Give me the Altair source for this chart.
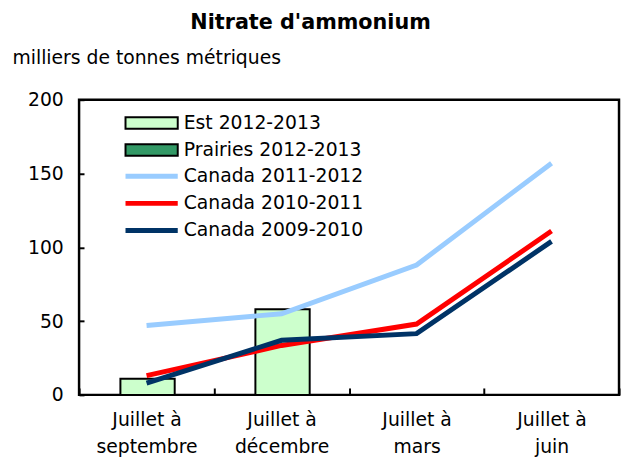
import altair as alt
import pandas as pd

periods = ["Juillet à\nseptembre", "Juillet à\ndécembre", "Juillet à\nmars", "Juillet à\njuin"]

bar_series = ["Est 2012-2013", "Prairies 2012-2013"]
bar_colors = ["#CCFFCC", "#339966"]
est_2012_2013 = [11, 58, None, None]
prairies_2012_2013 = [None, None, None, None]

line_series = ["Canada 2011-2012", "Canada 2010-2011", "Canada 2009-2010"]
line_colors = ["#99CCFF", "#FF0000", "#003366"]
canada_2011_2012 = [47, 55, 88, 157]
canada_2010_2011 = [13, 33.5, 48, 111]
canada_2009_2010 = [8, 37, 41.5, 104]

y_ticks = [0, 50, 100, 150, 200]

FONT = "DejaVu Sans"
FS = 19

bar_rows = []
for name, vals in zip(bar_series, [est_2012_2013, prairies_2012_2013]):
    for p, v in zip(periods, vals):
        if v is not None:
            bar_rows.append({"period": p, "series": name, "value": v})
bars_df = pd.DataFrame(bar_rows)

line_rows = []
for name, vals in zip(line_series, [canada_2011_2012, canada_2010_2011, canada_2009_2010]):
    for i, (p, v) in enumerate(zip(periods, vals)):
        line_rows.append({"period": p, "series": name, "value": v, "idx": i})
lines_df = pd.DataFrame(line_rows)

x_enc = alt.X(
    "period:N",
    sort=periods,
    scale=alt.Scale(domain=periods, paddingInner=0, paddingOuter=0),
    axis=alt.Axis(
        title=None,
        labelAngle=0,
        labelExpr="split(datum.label, '\\n')",
        labelFont=FONT,
        labelFontSize=FS,
        labelColor="black",
        labelLineHeight=27,
        labelPadding=16,
        tickBand="extent",
        tickSize=7,
        tickWidth=2,
        tickColor="black",
        domain=False,
        grid=False,
        offset=-7,
    ),
)

y_scale = alt.Scale(domain=[0, 200], nice=False)
y_axis = alt.Axis(
    values=y_ticks,
    title="milliers de tonnes métriques",
    titleAngle=0,
    titleX=-73,
    titleY=-43,
    titleAlign="left",
    titleBaseline="middle",
    titleFont=FONT,
    titleFontSize=FS,
    titleFontWeight="normal",
    titleColor="black",
    labelFont=FONT,
    labelFontSize=FS,
    labelColor="black",
    labelPadding=16,
    tickSize=5,
    tickWidth=2,
    tickColor="black",
    domain=False,
    grid=False,
    offset=-5,
)

legend_common = dict(
    orient="none",
    legendX=64,
    title=None,
    symbolSize=112,
    symbolOffset=0,
    labelFont=FONT,
    labelFontSize=FS,
    labelColor="black",
    labelOffset=23,
    labelLimit=400,
    rowPadding=6.5,
    padding=0,
)

bars = alt.Chart(bars_df).mark_bar(size=55, stroke="black", strokeWidth=2, xOffset=1).encode(
    x=x_enc,
    y=alt.Y("value:Q", scale=y_scale, axis=y_axis),
    fill=alt.Fill(
        "series:N",
        scale=alt.Scale(domain=bar_series, range=bar_colors),
        legend=alt.Legend(
            legendY=14,
            symbolType="M-5,-1.1H5V1.1H-5Z",
            symbolStrokeColor="black",
            symbolStrokeWidth=2,
            **legend_common,
        ),
    ),
)

lines = alt.Chart(lines_df).mark_line(strokeWidth=5).encode(
    x=x_enc,
    y=alt.Y("value:Q", scale=y_scale),
    order="idx:Q",
    stroke=alt.Stroke(
        "series:N",
        scale=alt.Scale(domain=line_series, range=line_colors),
        legend=alt.Legend(
            legendY=68,
            symbolType="M-5,0H5",
            symbolStrokeWidth=5,
            **legend_common,
        ),
    ),
)

chart = (
    alt.layer(bars, lines)
    .resolve_scale(fill="independent", stroke="independent")
    .properties(
        width=547,
        height=299,
        autosize=alt.AutoSizeParams(type="none"),
        padding={"left": 72, "top": 90, "right": 2, "bottom": 60},
        title=alt.TitleParams(
            "Nitrate d'ammonium",
            font=FONT,
            fontSize=21,
            fontWeight="bold",
            color="black",
            anchor="middle",
            frame="group",
            dx=-39,
            offset=16,
        ),
    )
    .configure(background="white")
    .configure_view(stroke="black", strokeWidth=2.5)
)

chart.save("out.html", embed_options={"renderer": "svg", "actions": False})
